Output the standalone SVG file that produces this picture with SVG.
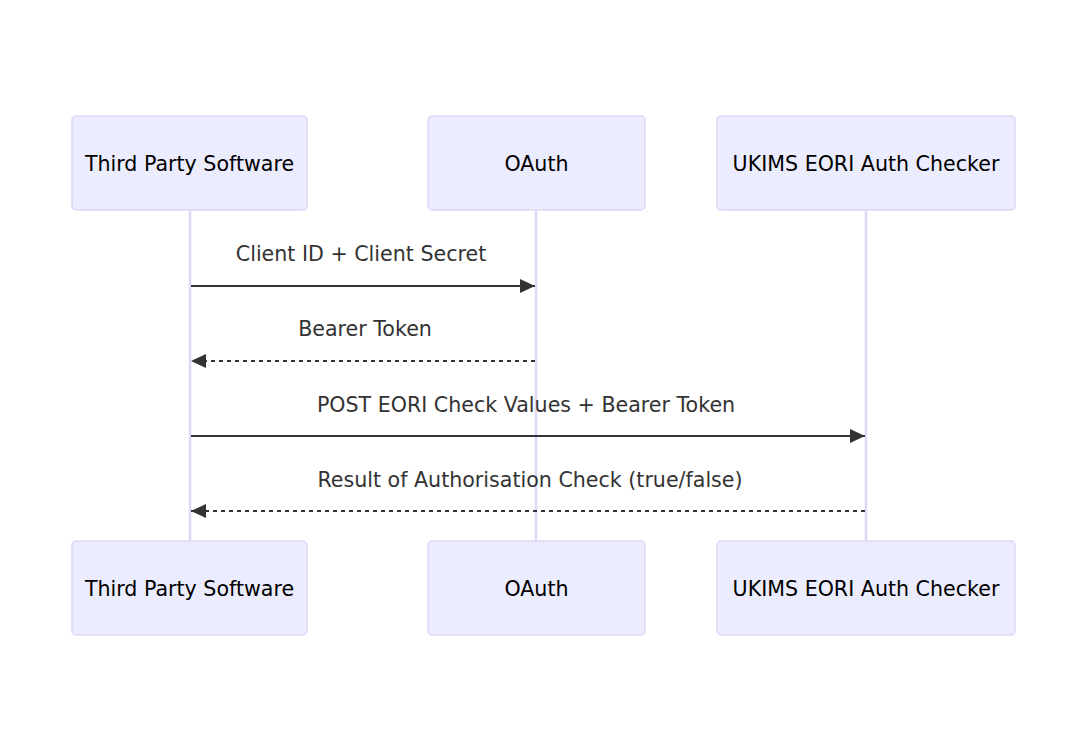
<svg xmlns="http://www.w3.org/2000/svg" width="1087" height="752" viewBox="0 0 1087 752">
<style>
.actor{fill:#ECECFF;stroke:#E0D6F5;stroke-width:1.5}
.atext{font-family:"DejaVu Sans",sans-serif;font-size:20.6px;fill:#000;text-anchor:middle;dominant-baseline:central}
.life{stroke:#E0D6F5;stroke-width:2.5}
.msg{stroke:#333;stroke-width:2;fill:none}
.dash{stroke-dasharray:4,4}
.mtext{font-family:"DejaVu Sans",sans-serif;font-size:20.6px;fill:#333;text-anchor:middle;dominant-baseline:central}
</style>
<defs>
<marker id="ah" viewBox="0 0 15 14" refX="15" refY="7" markerWidth="15" markerHeight="14" markerUnits="userSpaceOnUse" orient="auto">
<path d="M0,0 L15,7 L0,14 z" fill="#333"/>
</marker>
</defs>
<rect width="1087" height="752" fill="#fff"/>
<g id="lifelines">
<line class="life" x1="190" y1="210" x2="190" y2="541"/>
<line class="life" x1="536" y1="210" x2="536" y2="541"/>
<line class="life" x1="866" y1="210" x2="866" y2="541"/>
</g>
<g id="actor-tps-top"><rect class="actor" x="72" y="116" width="235" height="94" rx="4"/><text class="atext" x="189.5" y="164">Third Party Software</text></g>
<g id="actor-oauth-top"><rect class="actor" x="428" y="116" width="217" height="94" rx="4"/><text class="atext" x="536.5" y="164">OAuth</text></g>
<g id="actor-ukims-top"><rect class="actor" x="717" y="116" width="298" height="94" rx="4"/><text class="atext" x="866" y="164">UKIMS EORI Auth Checker</text></g>
<g id="actor-tps-bottom"><rect class="actor" x="72" y="541" width="235" height="94" rx="4"/><text class="atext" x="189.5" y="589">Third Party Software</text></g>
<g id="actor-oauth-bottom"><rect class="actor" x="428" y="541" width="217" height="94" rx="4"/><text class="atext" x="536.5" y="589">OAuth</text></g>
<g id="actor-ukims-bottom"><rect class="actor" x="717" y="541" width="298" height="94" rx="4"/><text class="atext" x="866" y="589">UKIMS EORI Auth Checker</text></g>
<g id="connectors">
<line class="msg" x1="191" y1="286" x2="535" y2="286" marker-end="url(#ah)"/>
<text class="mtext" x="361" y="254">Client ID + Client Secret</text>
<line class="msg dash" x1="535" y1="361" x2="191" y2="361" marker-end="url(#ah)"/>
<text class="mtext" x="365" y="329">Bearer Token</text>
<line class="msg" x1="191" y1="436" x2="865" y2="436" marker-end="url(#ah)"/>
<text class="mtext" x="526" y="405">POST EORI Check Values + Bearer Token</text>
<line class="msg dash" x1="865" y1="511" x2="191" y2="511" marker-end="url(#ah)"/>
<text class="mtext" x="530" y="480">Result of Authorisation Check (true/false)</text>
</g>
</svg>
